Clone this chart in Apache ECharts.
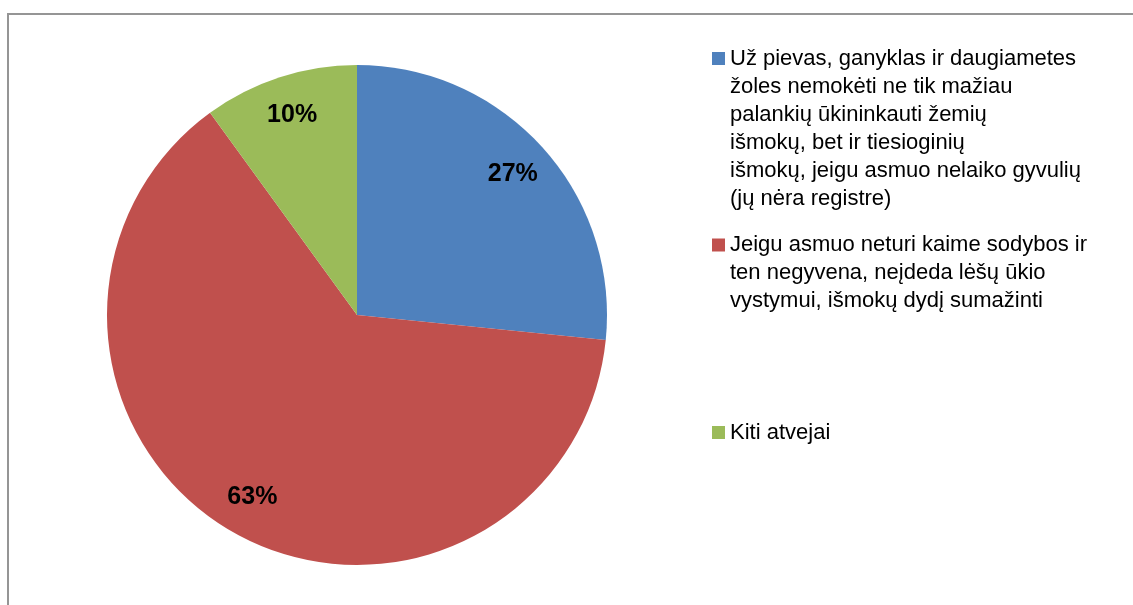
<!DOCTYPE html>
<html>
<head>
<meta charset="utf-8">
<script src="https://cdn.jsdelivr.net/npm/echarts@6/dist/echarts.min.js"></script>
<style>
  html, body { margin: 0; padding: 0; background: #fff; }
  #chart { width: 1133px; height: 605px; }
</style>
</head>
<body>
<div id="chart"></div>
<script>
// data
const categories = [
  'Už pievas, ganyklas ir daugiametes žoles nemokėti ne tik mažiau palankių ūkininkauti žemių išmokų, bet ir tiesioginių išmokų, jeigu asmuo nelaiko gyvulių (jų nėra registre)',
  'Jeigu asmuo neturi kaime sodybos ir ten negyvena, neįdeda lėšų ūkio vystymui, išmokų dydį sumažinti',
  'Kiti atvejai'
];
const legendLines = [
  ['Už pievas, ganyklas ir daugiametes', 'žoles nemokėti ne tik mažiau', 'palankių ūkininkauti žemių', 'išmokų, bet ir tiesioginių', 'išmokų, jeigu asmuo nelaiko gyvulių', '(jų nėra registre)'],
  ['Jeigu asmuo neturi kaime sodybos ir', 'ten negyvena, neįdeda lėšų ūkio', 'vystymui, išmokų dydį sumažinti'],
  ['Kiti atvejai']
];
const values = [26.6, 63.4, 10];
const colors = ['#4F81BD', '#C0504D', '#9BBB59'];

const FONT = "'Liberation Sans', Arial, sans-serif";
const LH = 28;
const legendIconCenters = [58.5, 245, 432.5];

const chartDom = document.getElementById('chart');
const myChart = echarts.init(chartDom);

const pieData = categories.map(function (name, i) {
  return { name: name, value: values[i], itemStyle: { color: colors[i] } };
});

// one legend per item so each can sit where the original put it.
// legend text is centred on the icon, so blank lines are put in front
// to make the first real line line up with the square
const legends = categories.map(function (name, i) {
  const n = legendLines[i].length;
  const half = (2 * n - 1) * LH / 2;
  const blank = new Array(n).join('\n');
  return {
    orient: 'vertical',
    left: 712,
    top: legendIconCenters[i] - half,
    padding: 0,
    icon: 'rect',
    itemWidth: 13,
    itemHeight: 13,
    selectedMode: false,
    data: [name],
    formatter: function () { return blank + legendLines[i].join('\n'); },
    textStyle: {
      fontFamily: FONT,
      fontSize: 22,
      lineHeight: LH,
      color: '#000'
    }
  };
});

const option = {
  backgroundColor: '#fff',
  animation: false,
  legend: legends,
  graphic: [{
    type: 'rect',
    shape: { x: 8, y: 14, width: 1200, height: 700 },
    style: { fill: 'none', stroke: '#959595', lineWidth: 2 },
    silent: true
  }],
  series: [
    {
      type: 'pie',
      center: [357, 315],
      radius: [0, 250],
      startAngle: 90,
      clockwise: true,
      percentPrecision: 0,
      label: { show: false },
      labelLine: { show: false },
      itemStyle: { borderWidth: 0 },
      emphasis: { disabled: true },
      data: pieData
    },
    {
      // carries the percent labels only, placed further out like the original
      type: 'pie',
      center: [357, 315],
      radius: [164, 250],
      startAngle: 90,
      clockwise: true,
      percentPrecision: 0,
      silent: true,
      emphasis: { disabled: true },
      itemStyle: { color: 'rgba(0,0,0,0)', borderWidth: 0 },
      label: {
        show: true,
        position: 'inside',
        formatter: '{d}%',
        fontFamily: FONT,
        fontSize: 25,
        fontWeight: 'bold',
        color: '#000'
      },
      labelLine: { show: false },
      data: categories.map(function (name, i) { return { name: name, value: values[i] }; })
    }
  ]
};
myChart.setOption(option);
</script>
</body>
</html>
